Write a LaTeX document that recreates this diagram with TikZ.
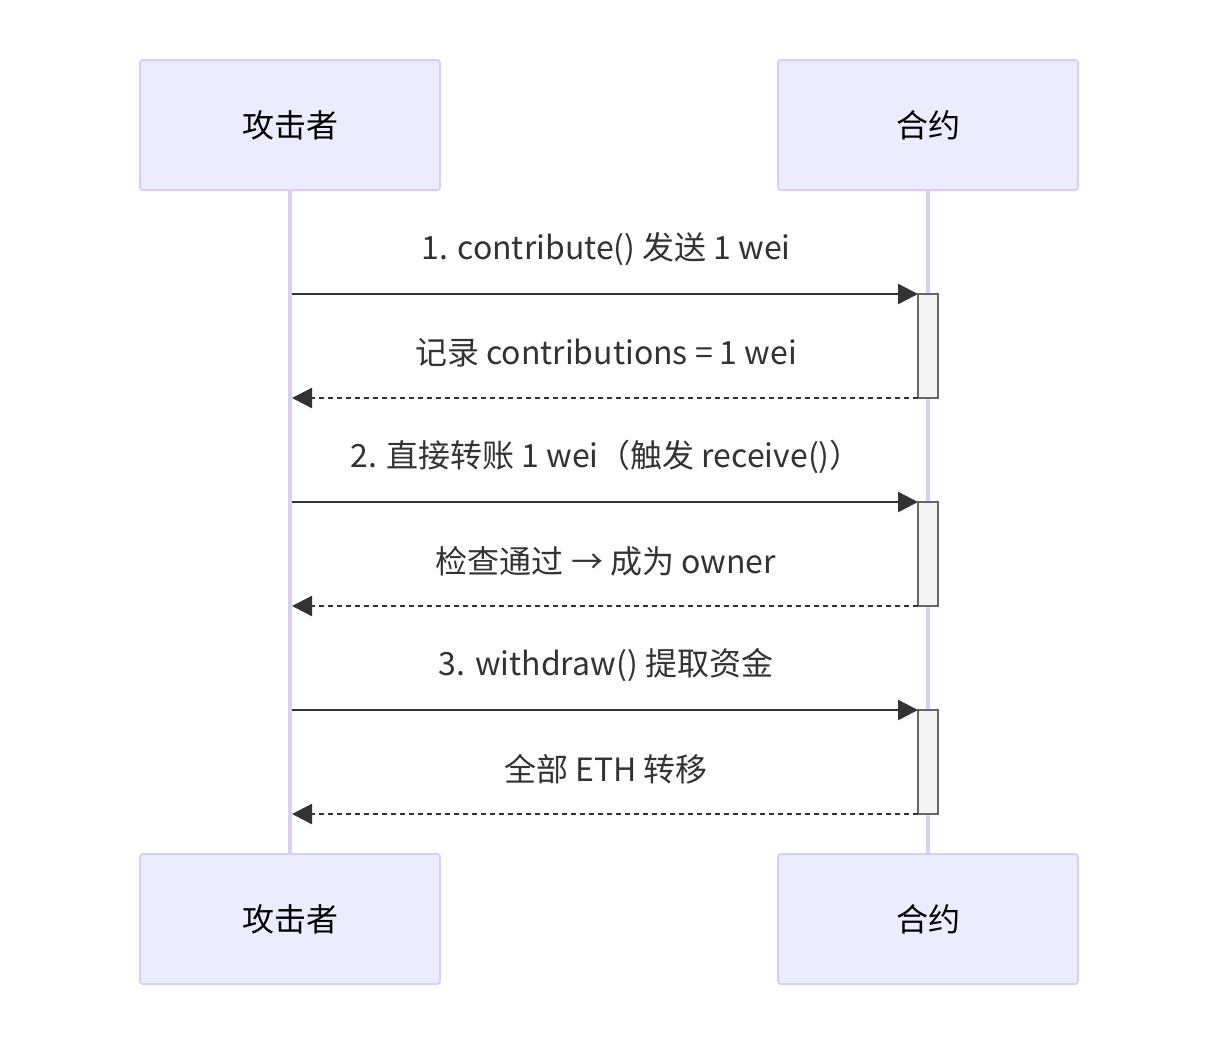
\documentclass[tikz,border=0pt]{standalone}
\usepackage{fontspec}
\setmainfont{Noto Sans CJK SC}
\usetikzlibrary{arrows.meta}

\definecolor{actorfill}{RGB}{236,236,255}
\definecolor{actorline}{RGB}{218,206,242}
\definecolor{msgline}{RGB}{51,51,51}
\definecolor{actfill}{RGB}{244,244,244}
\definecolor{actline}{RGB}{102,102,102}

\tikzset{
    actor/.style={draw=actorline, fill=actorfill, line width=1pt, rounded corners=1.5pt,
        minimum width=150pt, minimum height=65pt, inner sep=0pt, outer sep=0pt,
        font=\fontsize{16}{19}\selectfont, text=black},
    lifeline/.style={draw=actorline, line width=2pt},
    activation/.style={draw=actline, fill=actfill, line width=1pt,
        minimum width=10pt, minimum height=52pt, inner sep=0pt, outer sep=0pt},
    msg/.style={draw=msgline, line width=1.2pt, -{Triangle[length=10pt,width=10pt]}},
    reply/.style={msg, dash pattern=on 2.5pt off 2pt},
    msglabel/.style={font=\fontsize{16}{19}\selectfont, text=msgline, inner sep=0pt}
}

\begin{document}
\begin{tikzpicture}[x=0.5pt, y=-0.5pt]

\useasboundingbox (0,0) rectangle (1218,1046);

% Lifelines
\draw[lifeline] (290,190) -- (290,854);
\draw[lifeline] (928,190) -- (928,854);

% Actors, top and bottom
\node[actor] (attackerTop) at (290,125) {攻击者};
\node[actor] (contractTop) at (928,125) {合约};
\node[actor] (attackerBot) at (290,919) {攻击者};
\node[actor] (contractBot) at (928,919) {合约};

% Calls and replies
\foreach \i/\y/\call/\answer in {
    1/294/{1. contribute() 发送 1 wei}/{记录 contributions = 1 wei},
    2/502/{2. 直接转账 1 wei（触发 receive()）}/{检查通过 → 成为 owner},
    3/710/{3. withdraw() 提取资金}/{全部 ETH 转移}}
{
    \node[activation, anchor=north] (act\i) at (928,\y) {};
    \coordinate (from\i) at (292,\y);
    \coordinate (back\i) at (292,\y+104);
    \draw[msg] (from\i) -- (act\i.north west);
    \draw[reply] (act\i.south west) -- (back\i);
    \node[msglabel] (call\i) at (606,\y-45) {\call};
    \node[msglabel] (answer\i) at (606,\y+59) {\answer};
}

\end{tikzpicture}
\end{document}
